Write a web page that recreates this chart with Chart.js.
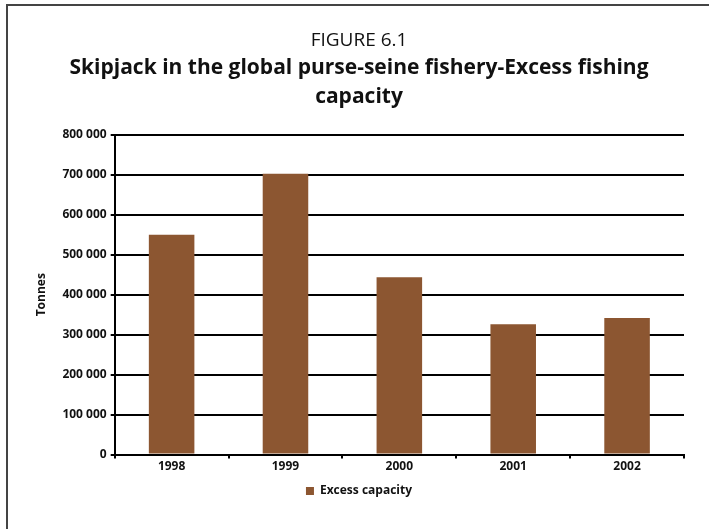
<!DOCTYPE html>
<html>
<head>
<meta charset="utf-8">
<title>Skipjack excess fishing capacity</title>
<script src="https://cdn.jsdelivr.net/npm/chart.js@4/dist/chart.umd.min.js"></script>
<style>
  html, body { margin: 0; padding: 0; background: #fff; }
  #frame {
    position: absolute; left: 6px; top: 4px; width: 703px; height: 525px;
    border-top: 2px solid #444; border-left: 2px solid #444;
  }
  #wrap { position: absolute; left: 0; top: 0; width: 709px; height: 529px; }
</style>
</head>
<body>
<div id="frame"></div>
<div id="wrap"><canvas id="chart" width="709" height="529"></canvas></div>
<script>
const years = ["1998", "1999", "2000", "2001", "2002"];
const excessCapacity = [550000, 703000, 444000, 326000, 342000];
const seriesLabel = "Excess capacity";
const figureLabel = "FIGURE 6.1";
const titleLines = ["Skipjack in the global purse-seine fishery-Excess fishing", "capacity"];
const yAxisTitle = "Tonnes";

const FONT = "'Open Sans', 'Noto Sans', sans-serif";
const BROWN = "#8c5631";

// thousands separated by a space: 800 000
function spaced(v) {
    return String(v).replace(/\B(?=(\d{3})+(?!\d))/g, " ");
}

Chart.defaults.font.family = FONT;
Chart.defaults.color = "#111";

new Chart(document.getElementById("chart").getContext("2d"), {
    type: "bar",
    data: {
        labels: years,
        datasets: [{
            label: seriesLabel,
            data: excessCapacity,
            backgroundColor: BROWN,
            borderWidth: 0,
            inflateAmount: 0,
            categoryPercentage: 0.8,
            barPercentage: 0.5
        }]
    },
    options: {
        responsive: false,
        animation: false,
        layout: { padding: { left: 34, right: 25, top: 14, bottom: 22 } },
        plugins: {
            title: {
                display: true,
                text: figureLabel,
                font: { size: 19, weight: "normal" },
                color: "#111",
                padding: { top: 15, bottom: 2 }
            },
            subtitle: {
                display: true,
                text: titleLines,
                font: { size: 21, weight: "bold", lineHeight: 1.36 },
                color: "#111",
                padding: { top: 0, bottom: 24 }
            },
            legend: {
                position: "bottom",
                labels: {
                    boxWidth: 8,
                    boxHeight: 8,
                    padding: 10,
                    font: { size: 12, weight: "bold" },
                    color: "#111"
                }
            },
            tooltip: { enabled: false }
        },
        scales: {
            x: {
                grid: {
                    offset: true,
                    drawOnChartArea: false,
                    drawTicks: true,
                    tickLength: 4,
                    color: "#000",
                    lineWidth: 2
                },
                border: { display: true, color: "#000", width: 2 },
                ticks: { font: { size: 12, weight: "bold" }, color: "#111", padding: 1 }
            },
            y: {
                min: 0,
                max: 800000,
                ticks: {
                    stepSize: 100000,
                    font: { size: 12, weight: "bold" },
                    color: "#111",
                    padding: 4,
                    callback: v => spaced(v)
                },
                grid: {
                    color: "#000",
                    lineWidth: 2,
                    drawTicks: true,
                    tickLength: 4
                },
                border: { display: true, color: "#000", width: 2 },
                title: {
                    display: true,
                    text: yAxisTitle,
                    font: { size: 12, weight: "bold" },
                    color: "#111",
                    padding: { top: 0, bottom: 10 }
                }
            }
        }
    }
});
</script>
</body>
</html>
